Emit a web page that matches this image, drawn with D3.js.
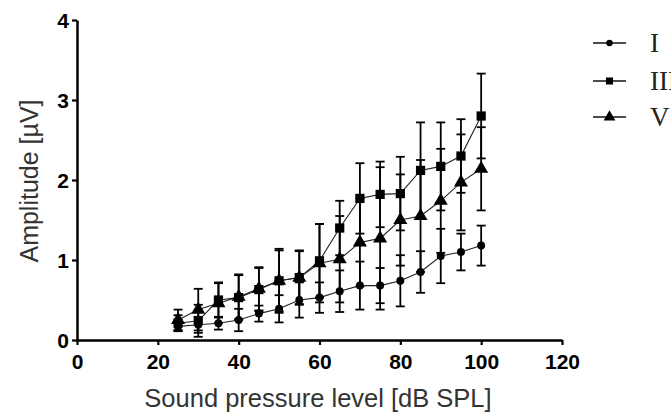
<!DOCTYPE html>
<html>
<head>
<meta charset="utf-8">
<script src="https://cdn.jsdelivr.net/npm/d3@7"></script>
<style>
  body { margin: 0; background: #fff; }
  svg { display: block; }
</style>
</head>
<body>
<svg id="chart" width="671" height="414"></svg>
<script>
// sound pressure levels (dB SPL)
const levels = [25, 30, 35, 40, 45, 50, 55, 60, 65, 70, 75, 80, 85, 90, 95, 100];

// mean amplitudes (uV) and SD
const waveI = [0.17, 0.19, 0.21, 0.25, 0.33, 0.39, 0.50, 0.53, 0.61, 0.68, 0.68, 0.74, 0.85, 1.05, 1.10, 1.18];
const waveIsd = [0.05, 0.10, 0.08, 0.14, 0.10, 0.17, 0.22, 0.19, 0.26, 0.30, 0.22, 0.32, 0.26, 0.34, 0.23, 0.25];
const waveIII = [0.21, 0.24, 0.50, 0.53, 0.63, 0.74, 0.78, 0.99, 1.40, 1.77, 1.82, 1.83, 2.12, 2.17, 2.30, 2.80];
const waveIIIsd = [0.10, 0.20, 0.22, 0.28, 0.27, 0.38, 0.33, 0.46, 0.34, 0.44, 0.41, 0.46, 0.60, 0.55, 0.46, 0.53];
const waveV = [0.25, 0.38, 0.46, 0.54, 0.64, 0.74, 0.78, 0.96, 1.01, 1.22, 1.27, 1.50, 1.55, 1.74, 1.97, 2.14];
const waveVsd = [0.13, 0.26, 0.25, 0.28, 0.27, 0.40, 0.34, 0.49, 0.54, 0.55, 0.89, 0.57, 0.70, 0.65, 0.60, 0.52];

const seriesNames = ['I', 'III', 'V'];
const xTicks = [0, 20, 40, 60, 80, 100, 120];
const yTicks = [0, 1, 2, 3, 4];

const svg = d3.select('#chart');

const xScale = d3.scaleLinear().domain([0, 120]).range([77, 562]);
const yScale = d3.scaleLinear().domain([0, 4]).range([340, 20]);

const series = [
    {name: seriesNames[0], mean: waveI, sd: waveIsd, symbol: d3.symbolCircle, size: 50, legendSize: 32},
    {name: seriesNames[1], mean: waveIII, sd: waveIIIsd, symbol: d3.symbolSquare, size: 85, legendSize: 50},
    {name: seriesNames[2], mean: waveV, sd: waveVsd, symbol: d3.symbolTriangle, size: 85, legendSize: 60}
];

// error bars first, so markers sit on top
const capHalf = 4.5;
for (const s of series) {
    const g = svg.append('g').attr('stroke', '#000').attr('stroke-width', 1.8);
    levels.forEach((lv, i) => {
        const x = xScale(lv);
        const yTop = yScale(s.mean[i] + s.sd[i]);
        const yBot = yScale(s.mean[i] - s.sd[i]);
        g.append('line').attr('x1', x).attr('x2', x).attr('y1', yTop).attr('y2', yBot);
        g.append('line').attr('x1', x - capHalf).attr('x2', x + capHalf).attr('y1', yTop).attr('y2', yTop);
        g.append('line').attr('x1', x - capHalf).attr('x2', x + capHalf).attr('y1', yBot).attr('y2', yBot);
    });
}

const line = d3.line()
    .x((d, i) => xScale(levels[i]))
    .y(d => yScale(d));

for (const s of series) {
    svg.append('path')
        .attr('d', line(s.mean))
        .attr('fill', 'none')
        .attr('stroke', '#222')
        .attr('stroke-width', 1.1);

    svg.append('g')
        .selectAll('path')
        .data(s.mean)
        .join('path')
        .attr('transform', (d, i) => `translate(${xScale(levels[i])},${yScale(d)})`)
        .attr('d', d3.symbol().type(s.symbol).size(s.size))
        .attr('fill', '#000');
}

// axes
const xAxis = svg.append('g')
    .attr('transform', `translate(0,${yScale(0)})`)
    .call(d3.axisBottom(xScale).tickValues(xTicks).tickFormat(d3.format('d'))
        .tickSize(5).tickSizeOuter(0).tickPadding(9));

const yAxis = svg.append('g')
    .attr('transform', `translate(${xScale(0)},0)`)
    .call(d3.axisLeft(yScale).tickValues(yTicks).tickFormat(d3.format('d'))
        .tickSize(5).tickSizeOuter(0).tickPadding(3));

for (const ax of [xAxis, yAxis]) {
    ax.select('.domain').attr('stroke', '#000').attr('stroke-width', 2.5);
    ax.selectAll('.tick line').attr('stroke', '#000').attr('stroke-width', 2.2);
    ax.selectAll('.tick text')
        .attr('fill', '#000')
        .style('font-family', '"Liberation Sans", Arial, sans-serif')
        .style('font-weight', 'bold')
        .style('font-size', '21px');
}
yAxis.selectAll('.tick text').attr('dy', '0.36em');

// axis titles
svg.append('text')
    .attr('x', 318)
    .attr('y', 407)
    .attr('text-anchor', 'middle')
    .attr('fill', '#333')
    .style('font-family', '"Liberation Sans", Arial, sans-serif')
    .style('font-size', '25.5px')
    .text('Sound pressure level [dB SPL]');

svg.append('text')
    .attr('transform', 'translate(38,181) rotate(-90)')
    .attr('text-anchor', 'middle')
    .attr('fill', '#333')
    .style('font-family', '"Liberation Sans", Arial, sans-serif')
    .style('font-size', '25px')
    .text('Amplitude [\u00b5V]');

// legend
const legendY = [43, 81, 117];
series.forEach((s, i) => {
    const y = legendY[i];
    svg.append('line')
        .attr('x1', 593).attr('x2', 626)
        .attr('y1', y).attr('y2', y)
        .attr('stroke', '#111').attr('stroke-width', 1.6);
    svg.append('path')
        .attr('transform', `translate(609.5,${y})`)
        .attr('d', d3.symbol().type(s.symbol).size(s.legendSize))
        .attr('fill', '#000');
    svg.append('text')
        .attr('x', 650)
        .attr('y', y + 9)
        .attr('fill', '#222')
        .style('font-family', '"Liberation Serif", "Times New Roman", serif')
        .style('font-size', '27px')
        .text(s.name);
});
</script>
</body>
</html>
